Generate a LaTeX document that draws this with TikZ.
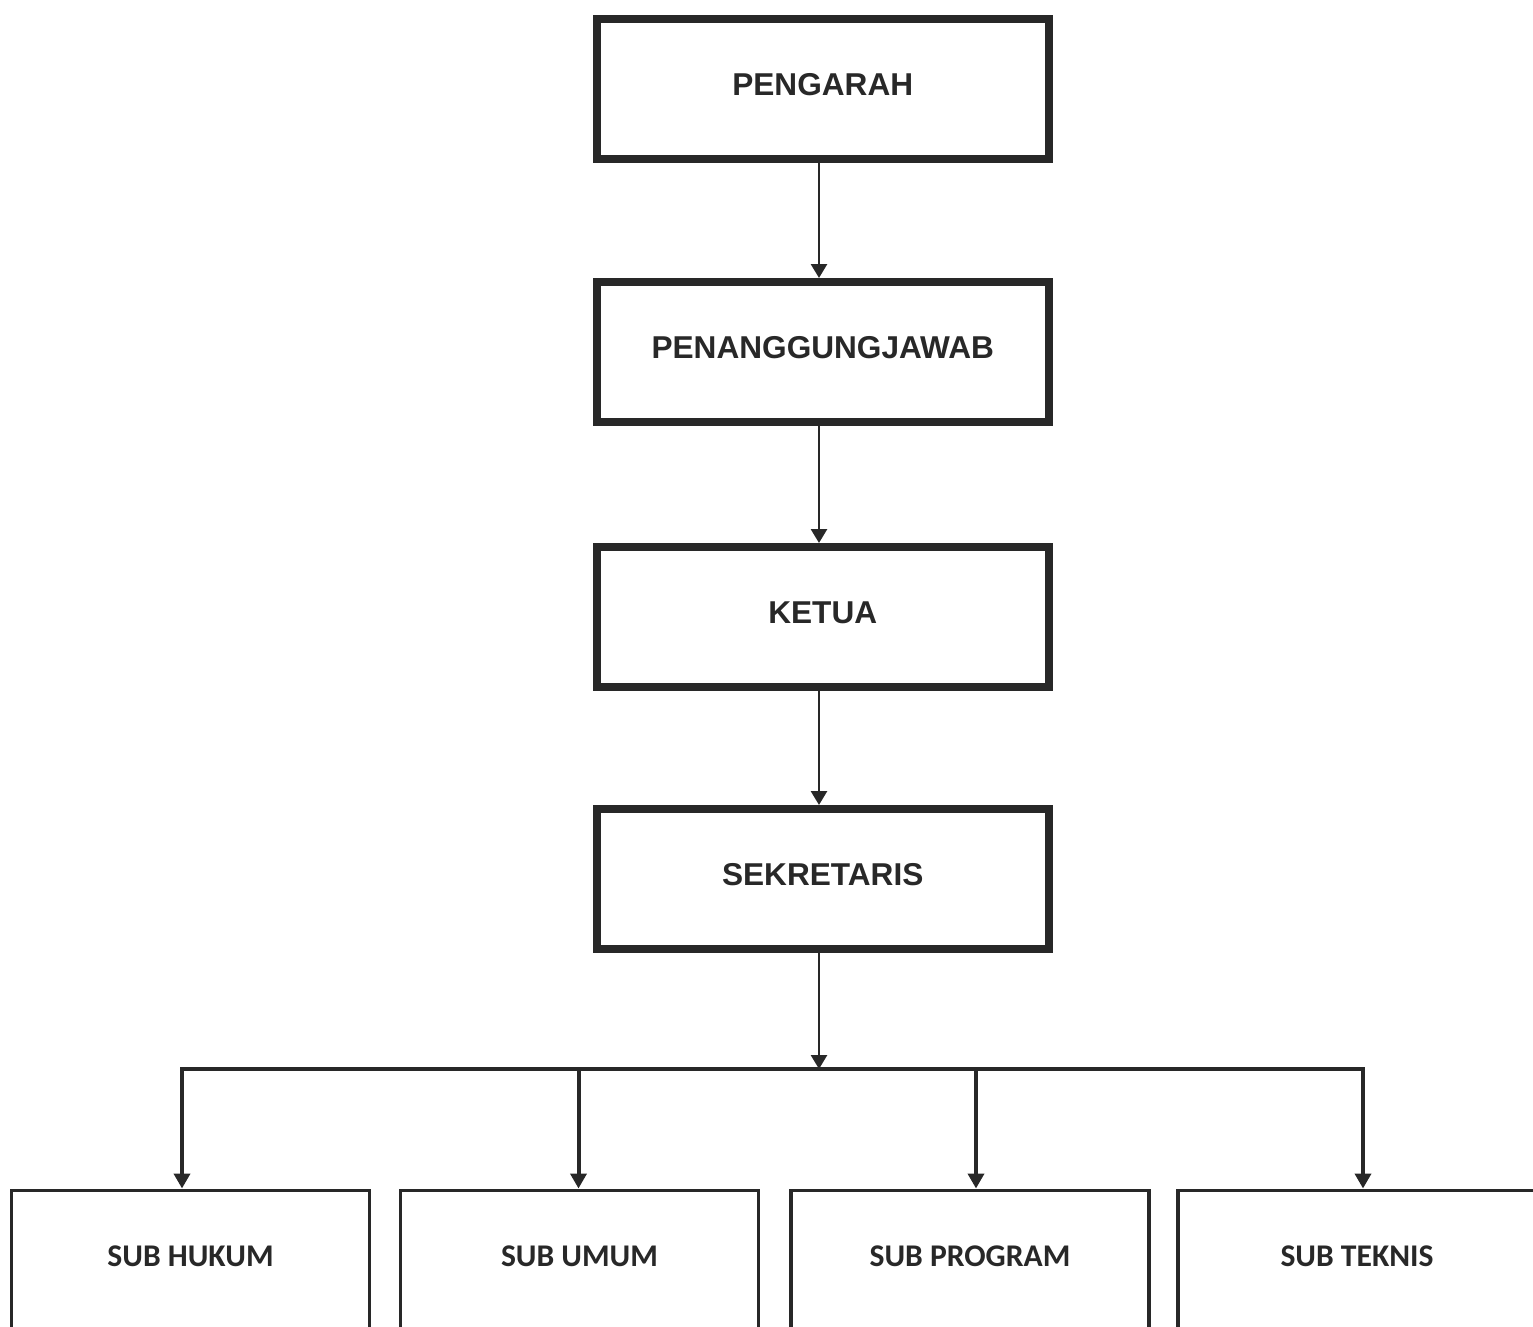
\documentclass[tikz,border=0pt]{standalone}
\usepackage{fontspec}
\setmainfont{Liberation Sans}
\newfontfamily\subfont{Carlito}
\usetikzlibrary{arrows.meta}
\definecolor{ink}{RGB}{40,40,40}

\tikzset{
  topbox/.style={draw=ink, line width=4pt, minimum width=226pt, minimum height=70pt,
    text=ink, font=\fontsize{15.8}{18}\selectfont\bfseries, text height=11.3pt, text depth=4.5pt},
  subbox/.style={draw=ink, line width=1.8pt, minimum width=179pt, anchor=north, inner sep=0pt,
    text=ink, font=\subfont\fontsize{15.8}{18}\selectfont\bfseries, text height=38.3pt, text depth=60pt},
  conn/.style={draw=ink, line width=1.4pt, -{Triangle[width=8pt,length=7pt]}},
  bus/.style={draw=ink, line width=2.4pt, line cap=rect},
  drop/.style={draw=ink, line width=2pt, -{Triangle[width=8pt,length=7.5pt]}},
}

\begin{document}
\begin{tikzpicture}[x=0.5pt,y=0.5pt,yscale=-1,xscale=1]
\useasboundingbox (0,0) rectangle (1533,1327);
\clip (0,0) rectangle (1533,1327);
\fill[white] (0,0) rectangle (1533,1327);

%Shape: Rectangle (upper levels)
\node[topbox] (pengarah) at (822.75,89) {PENGARAH};
\node[topbox] (penanggungjawab) at (822.75,352) {PENANGGUNGJAWAB};
\node[topbox] (ketua) at (822.75,617) {KETUA};
\node[topbox] (sekretaris) at (822.75,879) {SEKRETARIS};

%Shape: Rectangle (sub sections)
\node[subbox] (hukum) at (190.5,1188.5) {SUB HUKUM};
\node[subbox] (umum) at (579.5,1188.5) {SUB UMUM};
\node[subbox] (program) at (970,1188.5) {SUB PROGRAM};
\node[subbox] (teknis) at (1357,1188.5) {SUB TEKNIS};

%Straight Lines
\coordinate (spine) at (819,0);
\draw[conn] (pengarah.south -| spine) -- (penanggungjawab.north -| spine);
\draw[conn] (penanggungjawab.south -| spine) -- (ketua.north -| spine);
\draw[conn] (ketua.south -| spine) -- (sekretaris.north -| spine);

% bus
\coordinate (d1) at (182,1069);
\coordinate (d2) at (578.5,1069);
\coordinate (d3) at (976,1069);
\coordinate (d4) at (1363,1069);
\draw[bus] (d1) -- (d4);
\draw[conn] (sekretaris.south -| spine) -- (spine |- d1);

%Straight Lines (drops)
\draw[drop] (d1) -- (d1 |- hukum.north);
\draw[drop] (d2) -- (d2 |- umum.north);
\draw[drop] (d3) -- (d3 |- program.north);
\draw[drop] (d4) -- (d4 |- teknis.north);

\end{tikzpicture}
\end{document}
